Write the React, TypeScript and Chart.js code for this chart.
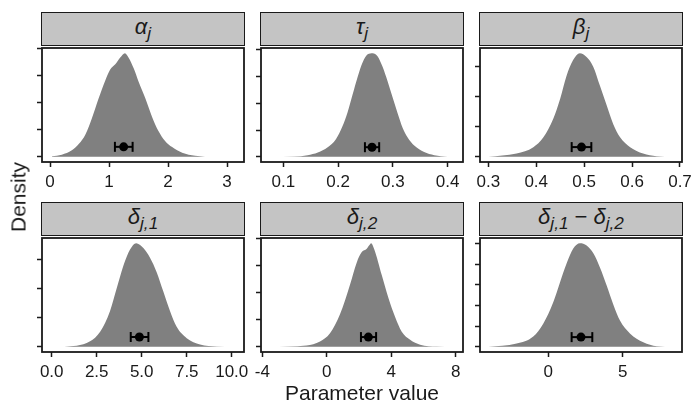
import React, { useEffect, useRef } from "react";
import { Chart, registerables } from "chart.js";
Chart.register(...registerables);

// ---------- data (posterior densities) ----------
const alphaX = [0.034, 0.20, 0.37, 0.49, 0.60, 0.71, 0.82, 0.94, 1.02, 1.11, 1.19, 1.27, 1.33, 1.42, 1.50, 1.62, 1.73, 1.84, 1.95, 2.07, 2.24, 2.46, 2.80, 3.10];
const alphaY = [0.02, 0.08, 0.24, 0.48, 0.83, 1.43, 2.14, 2.85, 3.24, 3.44, 3.68, 3.84, 3.68, 3.27, 2.79, 2.14, 1.48, 0.95, 0.59, 0.36, 0.15, 0.04, 0.0, 0.0];

const tauX = [0.0776, 0.120, 0.1445, 0.163, 0.181, 0.196, 0.208, 0.2175, 0.2266, 0.2358, 0.2449, 0.254, 0.2631, 0.2723, 0.2814, 0.2905, 0.2996, 0.3088, 0.3179, 0.327, 0.339, 0.357, 0.3755, 0.40];
const tauY = [0.0, 0.01, 0.06, 0.16, 0.36, 0.66, 1.14, 1.68, 2.34, 3.0, 3.54, 3.84, 3.88, 3.76, 3.36, 2.82, 2.22, 1.62, 1.08, 0.72, 0.42, 0.18, 0.06, 0.0];

const betaX = [0.30, 0.359, 0.394, 0.415, 0.436, 0.450, 0.463, 0.477, 0.491, 0.505, 0.519, 0.533, 0.547, 0.561, 0.575, 0.596, 0.623, 0.651, 0.686];
const betaY = [0.0, 0.11, 0.32, 0.65, 1.29, 1.94, 2.69, 3.23, 3.46, 3.33, 3.01, 2.37, 1.72, 1.08, 0.65, 0.32, 0.11, 0.02, 0.0];

const delta1X = [0.0, 1.39, 2.13, 2.69, 3.24, 3.61, 3.98, 4.35, 4.69, 5.09, 5.46, 5.83, 6.20, 6.57, 6.94, 7.5, 8.24, 9.17, 10.09];
const delta1Y = [0.0, 0.04, 0.19, 0.52, 1.24, 2.02, 2.8, 3.36, 3.58, 3.41, 3.08, 2.58, 1.91, 1.24, 0.69, 0.30, 0.08, 0.01, 0.0];

const delta2X = [-3.52, -1.25, -0.42, 0.20, 0.82, 1.44, 1.86, 2.17, 2.48, 2.62, 2.75, 2.95, 3.41, 3.82, 4.24, 4.65, 5.17, 5.79, 6.82, 7.86];
const delta2Y = [0.0, 0.05, 0.2, 0.5, 1.2, 2.29, 3.12, 3.5, 3.62, 3.74, 3.83, 3.6, 2.65, 1.81, 1.1, 0.56, 0.26, 0.08, 0.01, 0.0];

const diffX = [-4.04, -2.13, -1.01, -0.34, 0.34, 0.78, 1.23, 1.68, 2.13, 2.58, 3.03, 3.48, 3.92, 4.37, 4.82, 5.49, 6.39, 7.29, 8.41];
const diffY = [0.0, 0.16, 0.5, 1.12, 2.17, 3.1, 4.03, 4.76, 5.02, 4.91, 4.53, 3.83, 2.98, 2.05, 1.27, 0.65, 0.22, 0.03, 0.0];

// point estimates and intervals (estimate, low, high, height in density units)
const estimates = [1.248, 0.2619, 0.4945, 4.87, 2.58, 2.2];
const lows = [1.10, 0.249, 0.474, 4.39, 2.12, 1.57];
const highs = [1.40, 0.275, 0.515, 5.37, 3.06, 2.96];
const markHeights = [0.37, 0.36, 0.325, 0.34, 0.36, 0.47];

// x axis ranges and ticks
const xMins = [-0.136, 0.0593, 0.2827, -0.539, -4.08, -4.59];
const xMaxs = [3.288, 0.428, 0.7042, 10.68, 8.45, 8.99];
const xTicks1 = [0, 1, 2, 3];
const xTicks2 = [0.1, 0.2, 0.3, 0.4];
const xTicks3 = [0.3, 0.4, 0.5, 0.6, 0.7];
const xTicks4 = [0, 2.5, 5, 7.5, 10];
const xTicks5 = [-4, 0, 4, 8];
const xTicks6 = [0, 5];
const xLabels1 = ["0", "1", "2", "3"];
const xLabels2 = ["0.1", "0.2", "0.3", "0.4"];
const xLabels3 = ["0.3", "0.4", "0.5", "0.6", "0.7"];
const xLabels4 = ["0.0", "2.5", "5.0", "7.5", "10.0"];
const xLabels5 = ["-4", "0", "4", "8"];
const xLabels6 = ["0", "5"];

// ---------- layout ----------
const FONT = "'Liberation Sans', Arial, Helvetica, sans-serif";
const COL_LEFT = [42, 261, 480];
const ROW_TOP = [45, 235];
const PLOT_W = 202;
const PLOT_H = 117;
const STRIP_H = 33;
const PAD_L = 22;
const PAD_R = 22;
const PAD_T = 4;
const PAD_B = 2;
const Y_W = 5;
const X_H = 34;
const CANVAS_W = PAD_L + Y_W + PLOT_W + PAD_R;
const CANVAS_H = PAD_T + PLOT_H + X_H + PAD_B;

type PanelDef = {
  xs: number[];
  ys: number[];
  idx: number;
  xTicks: number[];
  xLabels: string[];
  label: React.ReactNode;
};

const Sub = ({ children }: { children: React.ReactNode }) => (
  <sub style={{ fontSize: "0.78em", verticalAlign: "-0.32em", lineHeight: 0 }}>{children}</sub>
);

const panels: PanelDef[] = [
  { xs: alphaX, ys: alphaY, idx: 0, xTicks: xTicks1, xLabels: xLabels1, label: <>α<Sub>j</Sub></> },
  { xs: tauX, ys: tauY, idx: 1, xTicks: xTicks2, xLabels: xLabels2, label: <>τ<Sub>j</Sub></> },
  { xs: betaX, ys: betaY, idx: 2, xTicks: xTicks3, xLabels: xLabels3, label: <>β<Sub>j</Sub></> },
  { xs: delta1X, ys: delta1Y, idx: 3, xTicks: xTicks4, xLabels: xLabels4, label: <>δ<Sub>j,1</Sub></> },
  { xs: delta2X, ys: delta2Y, idx: 4, xTicks: xTicks5, xLabels: xLabels5, label: <>δ<Sub>j,2</Sub></> },
  {
    xs: diffX, ys: diffY, idx: 5, xTicks: xTicks6, xLabels: xLabels6,
    label: <>δ<Sub>j,1</Sub><span style={{ fontStyle: "normal" }}> − </span>δ<Sub>j,2</Sub></>,
  },
];

const plotBox = {
  id: "plotBox",
  afterDraw(chart: any) {
    const { ctx, chartArea: a } = chart;
    ctx.save();
    ctx.strokeStyle = "#1a1a1a";
    ctx.lineWidth = 1.8;
    ctx.strokeRect(a.left, a.top, a.right - a.left, a.bottom - a.top);
    ctx.restore();
  },
};

function PanelChart({ p, left, top }: { p: PanelDef; left: number; top: number }) {
  const ref = useRef<HTMLCanvasElement>(null);
  useEffect(() => {
    const peak = Math.max(...p.ys);
    const yMin = -0.05 * peak;
    const yMax = 1.05 * peak;
    const yTicks: number[] = [];
    for (let v = 0; v <= yMax; v += 1) yTicks.push(v);
    const i = p.idx;
    const chart = new Chart(ref.current!, {
      type: "line",
      data: {
        datasets: [
          {
            data: [{ x: estimates[i], y: markHeights[i] }],
            showLine: false,
            pointRadius: 4.5,
            pointBackgroundColor: "#000",
            pointBorderColor: "#000",
            pointBorderWidth: 0,
            order: 0,
          } as any,
          {
            data: [
              { x: lows[i], y: markHeights[i] },
              { x: highs[i], y: markHeights[i] },
            ],
            borderColor: "#000",
            borderWidth: 2,
            pointStyle: "line",
            rotation: 90,
            pointRadius: 5,
            pointBorderColor: "#000",
            pointBorderWidth: 2,
            order: 1,
          } as any,
          {
            data: p.xs.map((x, k) => ({ x, y: p.ys[k] })),
            fill: "origin",
            backgroundColor: "#808080",
            borderColor: "#808080",
            borderWidth: 0,
            pointRadius: 0,
            cubicInterpolationMode: "monotone",
            order: 2,
          } as any,
        ],
      },
      options: {
        animation: false,
        responsive: false,
        maintainAspectRatio: false,
        layout: { padding: { left: PAD_L, right: PAD_R, top: PAD_T, bottom: PAD_B } },
        plugins: { legend: { display: false }, tooltip: { enabled: false } },
        events: [],
        scales: {
          x: {
            type: "linear",
            min: xMins[i],
            max: xMaxs[i],
            border: { display: false },
            grid: { display: true, drawOnChartArea: false, drawTicks: true, tickLength: 5, tickColor: "#1a1a1a", tickWidth: 1.5 },
            ticks: {
              padding: 5,
              color: "#1a1a1a",
              font: { family: FONT, size: 17 },
              maxRotation: 0,
              autoSkip: false,
              callback: (v: any) => {
                const k = p.xTicks.indexOf(Number(v));
                return k >= 0 ? p.xLabels[k] : "";
              },
            },
            afterBuildTicks: (axis: any) => {
              axis.ticks = p.xTicks.map((v) => ({ value: v }));
            },
            afterFit: (scale: any) => {
              scale.height = X_H;
              scale.paddingLeft = 0;
              scale.paddingRight = 0;
            },
          },
          y: {
            type: "linear",
            min: yMin,
            max: yMax,
            border: { display: false },
            grid: { display: true, drawOnChartArea: false, drawTicks: true, tickLength: 5, tickColor: "#1a1a1a", tickWidth: 1.5 },
            ticks: { display: false },
            afterBuildTicks: (axis: any) => {
              axis.ticks = yTicks.map((v) => ({ value: v }));
            },
            afterFit: (scale: any) => {
              scale.width = Y_W;
              scale.paddingTop = 0;
              scale.paddingBottom = 0;
            },
          },
        },
      } as any,
      plugins: [plotBox],
    });
    return () => chart.destroy();
  }, []);
  return (
    <canvas
      ref={ref}
      width={CANVAS_W}
      height={CANVAS_H}
      style={{
        position: "absolute",
        left: left - PAD_L - Y_W,
        top: top - PAD_T,
        width: CANVAS_W,
        height: CANVAS_H,
      }}
    />
  );
}

export default function App() {
  return (
    <div
      style={{
        position: "absolute",
        left: 0,
        top: 0,
        width: 691,
        height: 403,
        overflow: "hidden",
        background: "#fff",
        fontFamily: FONT,
        color: "#1a1a1a",
      }}
    >
      {panels.map((p, k) => {
        const left = COL_LEFT[k % 3];
        const top = ROW_TOP[Math.floor(k / 3)];
        return (
          <React.Fragment key={k}>
            <PanelChart p={p} left={left} top={top} />
            <div
              style={{
                position: "absolute",
                left: left - 1,
                top: top - STRIP_H,
                width: PLOT_W + 2,
                height: STRIP_H + 1,
                boxSizing: "border-box",
                border: "1.8px solid #1a1a1a",
                background: "#c4c4c4",
                display: "flex",
                alignItems: "center",
                justifyContent: "center",
                fontStyle: "italic",
                fontSize: 22,
                lineHeight: 1,
                paddingBottom: 4,
              }}
            >
              <span>{p.label}</span>
            </div>
          </React.Fragment>
        );
      })}
      <div
        style={{
          position: "absolute",
          left: 18,
          top: 197,
          transform: "translate(-50%, -50%) rotate(-90deg)",
          fontSize: 21,
          lineHeight: 1,
          whiteSpace: "nowrap",
        }}
      >
        Density
      </div>
      <div
        style={{
          position: "absolute",
          left: 362,
          top: 392,
          transform: "translate(-50%, -50%)",
          fontSize: 21,
          lineHeight: 1,
          whiteSpace: "nowrap",
        }}
      >
        Parameter value
      </div>
    </div>
  );
}
